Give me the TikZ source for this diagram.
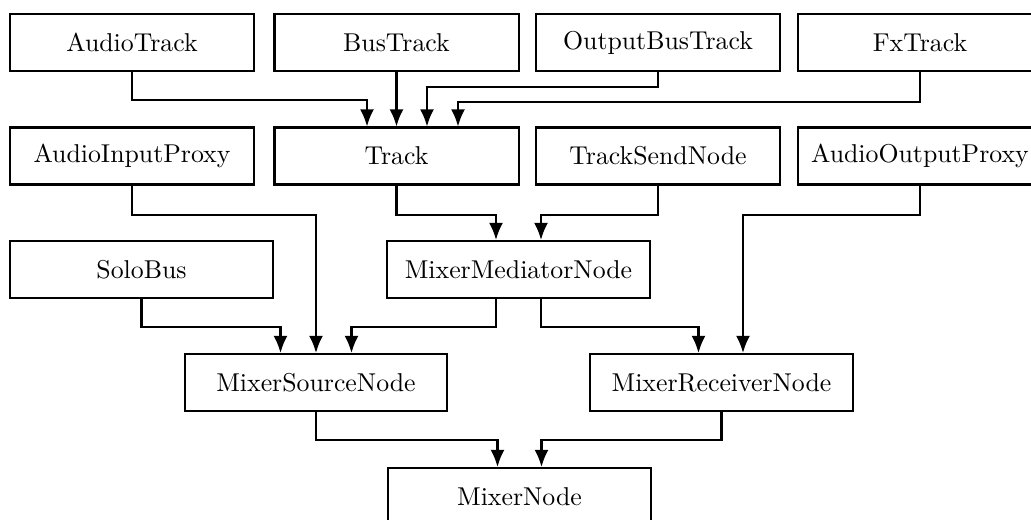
\documentclass[tikz,border=0pt]{standalone}
\usepackage{tikz}
\usetikzlibrary{arrows.meta,calc}

\begin{document}
\begin{tikzpicture}[x=0.3876pt,y=-0.3876pt,
  box/.style={draw,line width=0.8pt,minimum width=94.6pt,minimum height=22.1pt,inner sep=0pt},
  wbox/.style={box,minimum width=101.9pt},
  arr/.style={line width=0.8pt,-{Latex[length=6.6pt,width=5.4pt]}}]
\useasboundingbox (0,0) rectangle (1031,520);
\node[box] (atrack) at (132,42.5) {AudioTrack};
\node[box] (btrack) at (396.5,42.5) {BusTrack};
\node[box] (obtrack) at (658,42.5) {OutputBusTrack};
\node[box] (fxtrack) at (920,42.5) {FxTrack};
\node[box] (aiproxy) at (132,156) {AudioInputProxy};
\node[box] (track) at (396.5,156) {Track};
\node[box] (tsend) at (658,156) {TrackSendNode};
\node[box] (aoproxy) at (920,156) {AudioOutputProxy};
\node[wbox] (solo) at (141.5,269.5) {SoloBus};
\node[wbox] (med) at (518.5,269.5) {MixerMediatorNode};
\node[wbox] (msrc) at (316,382.5) {MixerSourceNode};
\node[wbox] (mrecv) at (721.5,382.5) {MixerReceiverNode};
\node[wbox] (mixer) at (519.5,496.5) {MixerNode};
\draw[arr] (atrack.south) -- ++(0,28) -| ($(track.north)+(-29.5,0)$);
\draw[arr] (btrack.south) -- (track.north);
\draw[arr] (obtrack.south) -- ++(0,15) -| ($(track.north)+(30.5,0)$);
\draw[arr] (fxtrack.south) -- ++(0,30) -| ($(track.north)+(61.5,0)$);
\draw[arr] (aiproxy.south) -- ++(0,29) -| (msrc.north);
\draw[arr] (track.south) -- ++(0,29) -| ($(med.north)+(-22.5,0)$);
\draw[arr] (tsend.south) -- ++(0,29) -| ($(med.north)+(22.5,0)$);
\draw[arr] (aoproxy.south) -- ++(0,29) -| ($(mrecv.north)+(21.5,0)$);
\draw[arr] (solo.south) -- ++(0,28) -| ($(msrc.north)+(-35.5,0)$);
\draw[arr] ($(med.south)+(-22.5,0)$) -- ++(0,28) -| ($(msrc.north)+(35.5,0)$);
\draw[arr] ($(med.south)+(22.5,0)$) -- ++(0,28) -| ($(mrecv.north)+(-23,0)$);
\draw[arr] (msrc.south) -- ++(0,28) -| ($(mixer.north)+(-22,0)$);
\draw[arr] (mrecv.south) -- ++(0,28) -| ($(mixer.north)+(22,0)$);
\end{tikzpicture}
\end{document}
